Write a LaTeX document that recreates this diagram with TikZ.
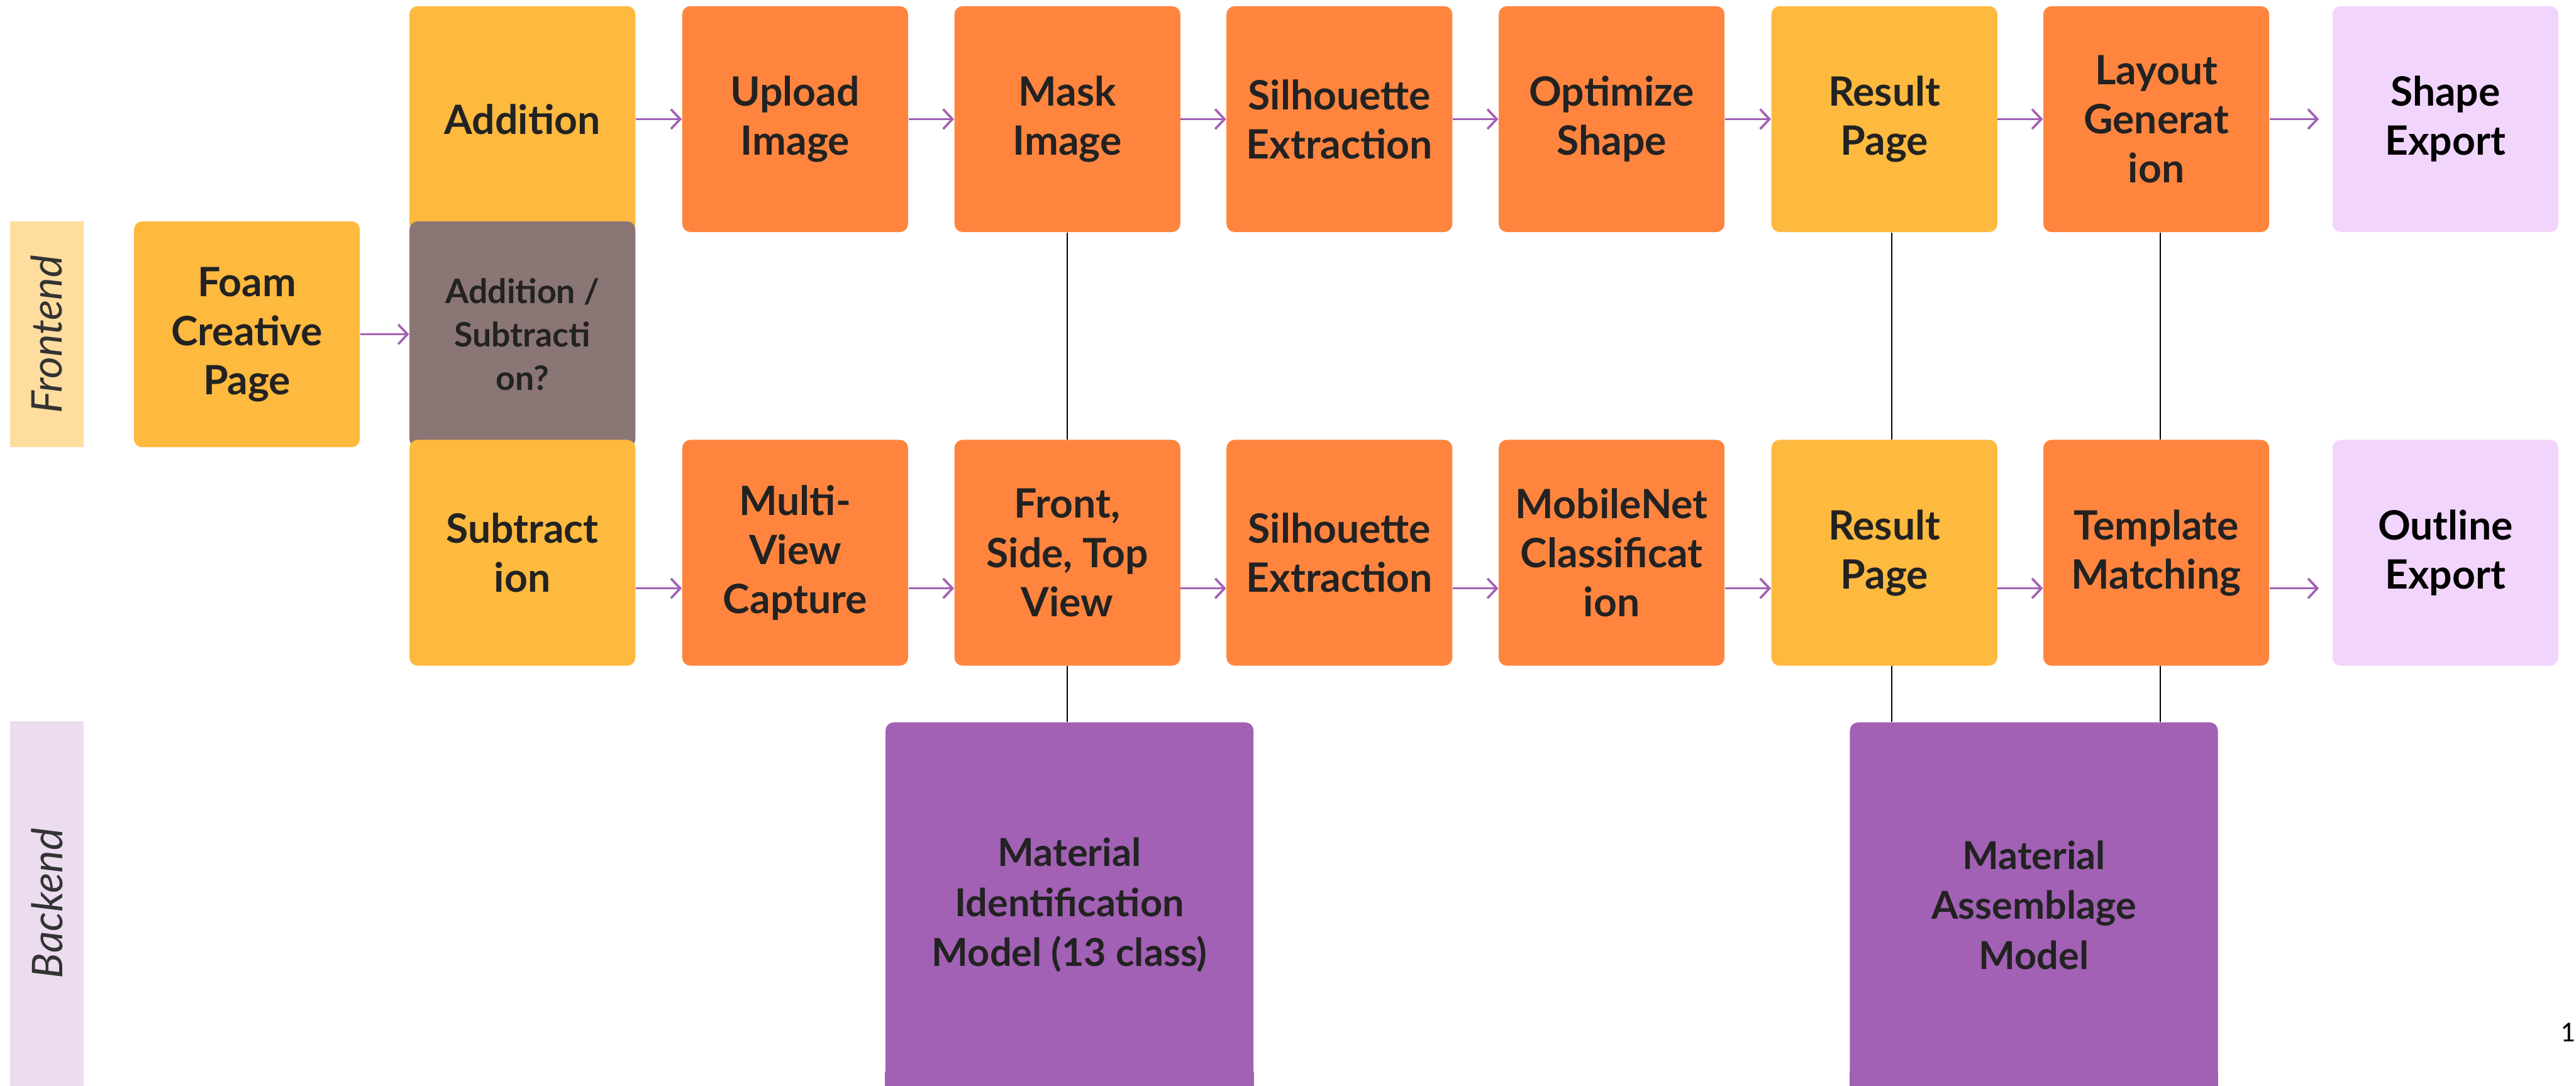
\documentclass[tikz,border=0pt]{standalone}
\usepackage{fontspec}
\setmainfont{Lato}
\newfontfamily\pagefont{Carlito}
\usepackage{xcolor}
\usetikzlibrary{arrows.meta}

\definecolor{amber}{HTML}{FEB93F}
\definecolor{tangerine}{HTML}{FF853F}
\definecolor{taupe}{HTML}{8A7675}
\definecolor{lilac}{HTML}{F2D5FD}
\definecolor{grape}{HTML}{A261B4}
\definecolor{sandband}{HTML}{FEDD9E}
\definecolor{mistband}{HTML}{EBDDEF}
\definecolor{ink}{HTML}{222222}

\begin{document}
\begin{tikzpicture}[x=0.03cm, y=-0.03cm,
  box/.style={rectangle, rounded corners=0.15cm, inner sep=0pt, align=center,
    minimum width=4.125cm, minimum height=4.125cm, text=ink,
    font=\fontsize{21}{25.5}\selectfont\bfseries},
  page/.style={box, fill=amber},
  task/.style={box, fill=tangerine},
  choice/.style={box, fill=taupe, font=\fontsize{17.5}{22.5}\selectfont\bfseries},
  export/.style={box, fill=lilac, text=black},
  model/.style={box, fill=grape, minimum width=6.72cm, minimum height=6.675cm,
    font=\fontsize{20}{26}\selectfont\bfseries},
  band/.style={rectangle, inner sep=0pt, rotate=90, minimum height=1.35cm,
    text=black!80, font=\fontsize{22}{26}\selectfont\itshape},
  flow/.style={draw=grape, line width=1.2pt, -{Straight Barb[length=0.17cm, width=0.36cm]}},
  link/.style={draw=black, line width=0.8pt}]

  \fill[white] (0,0) rectangle (1568,661);
  \clip (0,0) rectangle (1568,661);

  \node[band, fill=sandband, minimum width=4.12cm] (front) at (28.5,203.5) {Frontend};
  \node[band, fill=mistband, minimum width=6.66cm] (back) at (28.5,550) {Backend};

  \node[page] (foam) at (150.3,203.5) {Foam\\Creative\\Page};
  \node[page] (add) at (318,72.5) {Addition};
  \node[choice] (ask) at (318,203.5) {Addition /\\Subtracti\\on?};
  \node[page] (sub) at (318,336.5) {Subtract\\ion};

  \node[task] (upload) at (484,72.5) {Upload\\Image};
  \node[task] (mask) at (649.7,72.5) {Mask\\Image};
  \node[task] (silA) at (815.3,72.5) {Silhouette\\Extraction};
  \node[task] (optim) at (981,72.5) {Optimize\\Shape};
  \node[page] (resA) at (1147,72.5) {Result\\Page};
  \node[task] (layout) at (1312.5,72.5) {Layout\\Generat\\ion};
  \node[export] (shape) at (1488.5,72.5) {Shape\\Export};

  \node[task] (multi) at (484,336.5) {Multi-\\View\\Capture};
  \node[task] (views) at (649.7,336.5) {Front,\\Side, Top\\View};
  \node[task] (silB) at (815.3,336.5) {Silhouette\\Extraction};
  \node[task] (mobile) at (981,336.5) {MobileNet\\Classificat\\ion};
  \node[page] (resB) at (1147,336.5) {Result\\Page};
  \node[task] (match) at (1312.5,336.5) {Template\\Matching};
  \node[export] (outline) at (1488.5,336.5) {Outline\\Export};

  \node[model] (ident) at (651,551) {Material\\Identification\\Model (13 class)};
  \fill[grape] ([yshift=0.3cm]ident.south west) rectangle ([yshift=-0.3cm]ident.south east);
  \node[model] (assem) at (1238,551) {Material\\Assemblage\\Model};
  \fill[grape] ([yshift=0.3cm]assem.south west) rectangle ([yshift=-0.3cm]assem.south east);

  \draw[flow] (foam) -- (ask);
  \draw[flow] (add) -- (upload);
  \draw[flow] (upload) -- (mask);
  \draw[flow] (mask) -- (silA);
  \draw[flow] (silA) -- (optim);
  \draw[flow] (optim) -- (resA);
  \draw[flow] (resA) -- (layout);
  \draw[flow, shorten >=0.24cm] (layout) -- (shape);

  \draw[flow] ([yshift=-0.65cm]sub.east) -- ([yshift=-0.65cm]multi.west);
  \draw[flow] ([yshift=-0.65cm]multi.east) -- ([yshift=-0.65cm]views.west);
  \draw[flow] ([yshift=-0.65cm]views.east) -- ([yshift=-0.65cm]silB.west);
  \draw[flow] ([yshift=-0.65cm]silB.east) -- ([yshift=-0.65cm]mobile.west);
  \draw[flow] ([yshift=-0.65cm]mobile.east) -- ([yshift=-0.65cm]resB.west);
  \draw[flow] ([yshift=-0.65cm]resB.east) -- ([yshift=-0.65cm]match.west);
  \draw[flow, shorten >=0.24cm] ([yshift=-0.65cm]match.east) -- ([yshift=-0.65cm]outline.west);

  \draw[link] (mask) -- (views);
  \draw[link] (views.south) -- (views.south |- ident.north);
  \draw[link] ([xshift=0.135cm]resA.south) -- ([xshift=0.135cm]resB.north);
  \draw[link] ([xshift=0.135cm]resB.south) -- ([xshift=0.135cm]resB.south |- assem.north);
  \draw[link] ([xshift=0.075cm]layout.south) -- ([xshift=0.075cm]match.north);
  \draw[link] ([xshift=0.075cm]match.south) -- ([xshift=0.075cm]match.south |- assem.north);

  \node[font=\pagefont\fontsize{15}{17}\selectfont] (pgnum) at (1563,628.5) {1};
\end{tikzpicture}
\end{document}
